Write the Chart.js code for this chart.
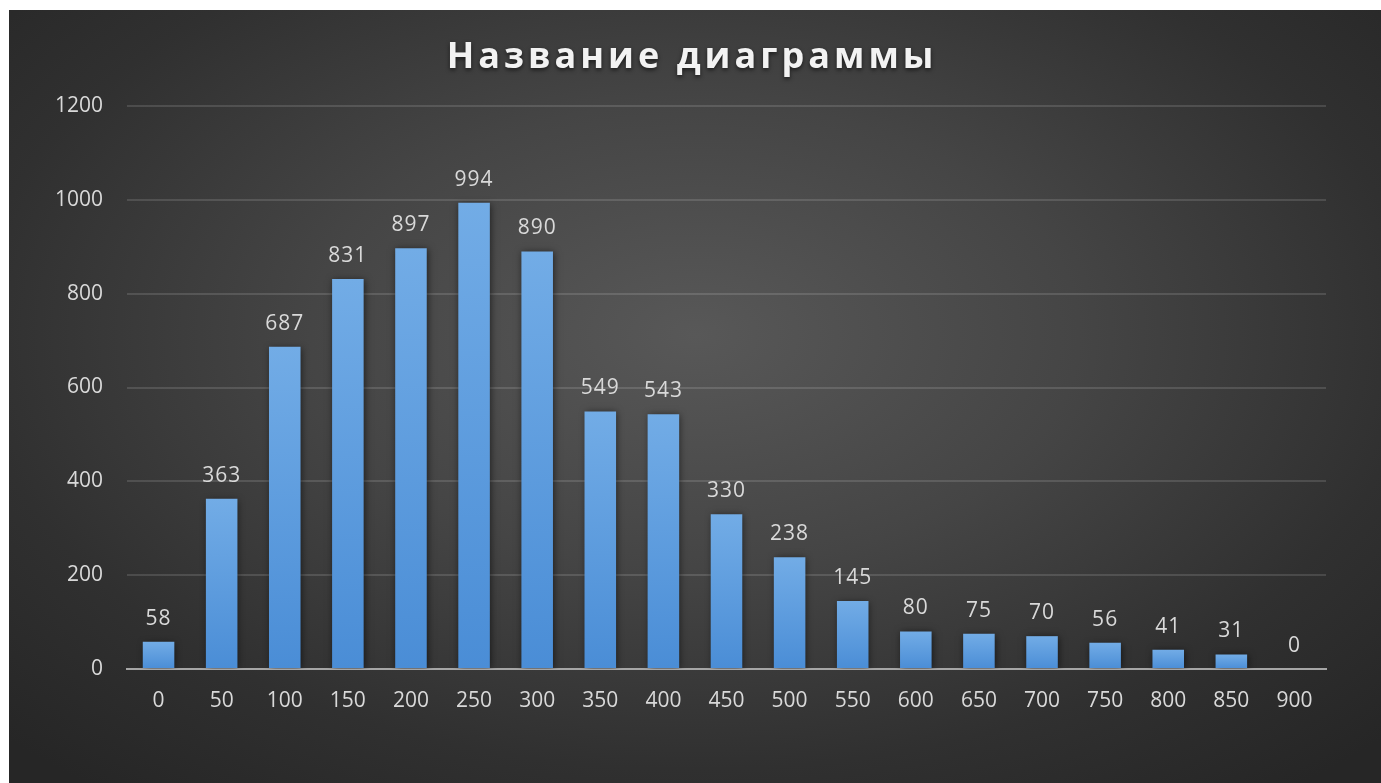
<!DOCTYPE html>
<html>
<head>
<meta charset="utf-8">
<script src="https://cdn.jsdelivr.net/npm/chart.js@4.4.1/dist/chart.umd.min.js"></script>
<style>
    html, body { margin: 0; padding: 0; background: #ffffff; }
    #panel {
        position: absolute;
        left: 9px; top: 10px;
        width: 1372px; height: 773px;
        background: radial-gradient(ellipse 70% 75% at 50% 42%, #585858 0%, #454545 40%, #303030 75%, #262626 100%);
    }
    #wrap { position: absolute; left: 0; top: 0; width: 1381px; height: 783px; }
</style>
</head>
<body>
<div id="panel"></div>
<div id="wrap"><canvas id="chart" width="1381" height="783"></canvas></div>
<script>
// ---- data ----
const titleText = 'Название диаграммы';
const categories = ['0', '50', '100', '150', '200', '250', '300', '350', '400', '450',
                    '500', '550', '600', '650', '700', '750', '800', '850', '900'];
const counts = [58, 363, 687, 831, 897, 994, 890, 549, 543, 330,
                238, 145, 80, 75, 70, 56, 41, 31, 0];
const yTicks = [0, 200, 400, 600, 800, 1000, 1200];

const FONT = "'Open Sans', 'Noto Sans', sans-serif";
const TEXT_COLOR = '#d9d9d9';

// per-bar vertical gradient, light at the top
function barColor(context) {
    const chart = context.chart;
    const y = chart.scales && chart.scales.y;
    if (!y || context.raw === undefined) return '#5b9bd5';
    const top = y.getPixelForValue(context.raw);
    const bottom = y.getPixelForValue(0);
    if (!(bottom > top)) return '#5b9bd5';
    const g = chart.ctx.createLinearGradient(0, top, 0, bottom);
    g.addColorStop(0, '#72ace6');
    g.addColorStop(1, '#4a8dd6');
    return g;
}

// title with letter spacing
const titlePlugin = {
    id: 'spacedTitle',
    afterDraw(chart) {
        const ctx = chart.ctx;
        ctx.save();
        ctx.font = "bold 36px " + FONT;
        ctx.fillStyle = '#f2f2f2';
        ctx.textAlign = 'center';
        ctx.textBaseline = 'middle';
        ctx.letterSpacing = '4px';
        ctx.shadowColor = 'rgba(0,0,0,0.6)';
        ctx.shadowBlur = 4;
        ctx.shadowOffsetY = 2;
        ctx.fillText(titleText, 692, 58);
        ctx.restore();
    }
};

// soft shadow around bars
const shadowPlugin = {
    id: 'barShadow',
    beforeDatasetsDraw(chart) {
        const ctx = chart.ctx;
        ctx.save();
        ctx.shadowColor = 'rgba(0,0,0,0.55)';
        ctx.shadowBlur = 7;
        ctx.shadowOffsetX = 1;
        ctx.shadowOffsetY = 1;
    },
    afterDatasetsDraw(chart) {
        chart.ctx.restore();
    }
};

// value labels above bars
const valueLabels = {
    id: 'valueLabels',
    afterDatasetsDraw(chart) {
        const ctx = chart.ctx;
        const meta = chart.getDatasetMeta(0);
        ctx.save();
        ctx.font = "21px " + FONT;
        ctx.fillStyle = TEXT_COLOR;
        ctx.textAlign = 'center';
        ctx.textBaseline = 'alphabetic';
        ctx.letterSpacing = '1px';
        meta.data.forEach((bar, i) => {
            ctx.fillText(String(counts[i]), bar.x, bar.y - 17);
        });
        ctx.restore();
    }
};

const ctx = document.getElementById('chart').getContext('2d');
new Chart(ctx, {
    type: 'bar',
    data: {
        labels: categories,
        datasets: [{
            data: counts,
            backgroundColor: barColor,
            borderWidth: 0,
            categoryPercentage: 1.0,
            barPercentage: 0.5
        }]
    },
    options: {
        responsive: false,
        animation: false,
        events: [],
        layout: {
            padding: { left: 9, top: 106, right: 55, bottom: 0 }
        },
        plugins: {
            legend: { display: false },
            title: { display: false },
            tooltip: { enabled: false }
        },
        scales: {
            x: {
                grid: { display: false, drawTicks: false },
                border: { display: true, color: '#a6a6a6', width: 2 },
                ticks: {
                    color: TEXT_COLOR,
                    font: { family: FONT, size: 21 },
                    padding: 19,
                    maxRotation: 0,
                    autoSkip: false
                },
                afterFit(scale) { scale.height = 114; }
            },
            y: {
                min: 0,
                max: 1200,
                afterBuildTicks(scale) {
                    scale.ticks = yTicks.map(v => ({ value: v }));
                },
                grid: {
                    color: 'rgba(255,255,255,0.13)',
                    lineWidth: 2,
                    drawTicks: false
                },
                border: { display: false },
                ticks: {
                    color: TEXT_COLOR,
                    font: { family: FONT, size: 21 },
                    padding: 24,
                    callback: v => String(v)
                },
                afterFit(scale) { scale.width = 118; }
            }
        }
    },
    plugins: [shadowPlugin, valueLabels, titlePlugin]
});
</script>
</body>
</html>
